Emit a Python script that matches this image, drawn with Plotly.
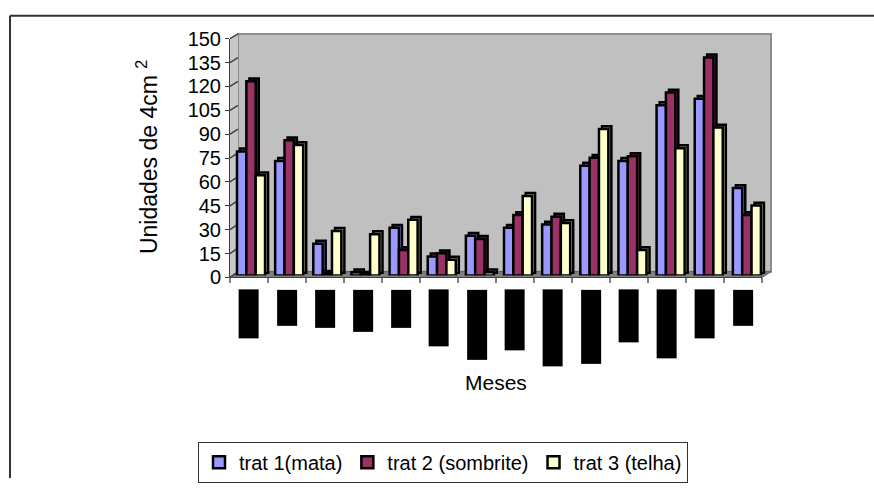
import plotly.graph_objects as go

# ---- data -------------------------------------------------------------
meses = ["jan/03", "fev/03", "mar/03", "abr/03", "mai/03", "jun/03", "jul/03",
         "ago/03", "set/03", "out/03", "nov/03", "dez/03", "jan/04", "fev/04"]
trat1_mata = [78, 72, 20, 2, 30, 12, 25, 30, 32, 69, 72, 107, 111, 55]
trat2_sombrite = [122, 85, 1, 0.5, 16, 14, 23, 38, 37, 74, 75, 115, 137, 38]
trat3_telha = [63, 82, 28, 26, 35, 10, 2, 50, 33, 92, 16, 80, 93, 44]
y_ticks = list(range(0, 151, 15))

series = [
    ("trat 1(mata)", trat1_mata),
    ("trat 2 (sombrite)", trat2_sombrite),
    ("trat 3 (telha)", trat3_telha),
]

# ---- styling ------------------------------------------------------------
W, H = 874, 489
FONT = "Arial, Liberation Sans, sans-serif"
front_colors = ["#9999FF", "#993366", "#FFFFCC"]
side_colors = ["#7373C0", "#6B2447", "#A3A37A"]
bar_offsets = [-0.395, -0.15, 0.095]
bar_width = 0.245
depth_dx, depth_dy = 0.08, 1.8
# length of the (blacked-out) rotated month label boxes
label_box_len = [49, 36, 38, 42, 38, 57, 70, 61, 77, 74, 53, 69, 49, 36]


def px_x(p):
    return p / W


def px_y(p):
    return 1 - p / H


# front axis frame and back wall frame, in pixels
FX0, FX1, FY0, FY150 = 230, 762, 279, 29
BX0, BX1, BY0, BY150 = 238, 771, 273, 24

fig = go.Figure()

idx = list(range(len(meses)))
for k, (name, vals) in enumerate(series):
    # side/top faces sit slightly behind and above the front face
    fig.add_trace(go.Bar(
        x=idx, y=vals, base=depth_dy, offset=bar_offsets[k] + depth_dx,
        width=bar_width, marker=dict(color=side_colors[k],
                                     line=dict(color="black", width=2.5)),
        showlegend=False, hoverinfo="skip", xaxis="x3", yaxis="y3"))
    fig.add_trace(go.Bar(
        x=idx, y=vals, offset=bar_offsets[k], width=bar_width, name=name,
        marker=dict(color=front_colors[k], line=dict(color="black", width=2.5)),
        xaxis="x3", yaxis="y3"))

shapes = []
# back wall
shapes.append(dict(type="rect", xref="paper", yref="paper", layer="below",
                   x0=px_x(BX0), x1=px_x(BX1), y0=px_y(BY0), y1=px_y(BY150),
                   fillcolor="#C0C0C0", line=dict(color="#8C8C8C", width=2)))
# left side wall
shapes.append(dict(type="path", xref="paper", yref="paper", layer="below",
                   path=(f"M{px_x(FX0)},{px_y(FY0)} L{px_x(FX0)},{px_y(FY150)} "
                         f"L{px_x(BX0)},{px_y(BY150)} L{px_x(BX0)},{px_y(BY0)} Z"),
                   fillcolor="#C8C8C8", line=dict(width=0)))
# floor
shapes.append(dict(type="path", xref="paper", yref="paper", layer="below",
                   path=(f"M{px_x(FX0)},{px_y(FY0)} L{px_x(BX0)},{px_y(BY0)} "
                         f"L{px_x(BX1)},{px_y(BY0)} L{px_x(FX1)},{px_y(FY0)} Z"),
                   fillcolor="#808080", line=dict(color="#606060", width=1)))
# diagonal tick connectors on the side wall
for v in y_ticks:
    fy = FY0 - v * (FY0 - FY150) / 150
    by = BY0 - v * (BY0 - BY150) / 150
    shapes.append(dict(type="line", xref="paper", yref="paper", layer="below",
                       x0=px_x(FX0), y0=px_y(fy), x1=px_x(BX0), y1=px_y(by),
                       line=dict(color="#404040", width=1.5)))
# chart area border (left and top edges lie inside the view)
shapes.append(dict(type="line", xref="paper", yref="paper", layer="above",
                   x0=px_x(10), y0=px_y(5), x1=px_x(10), y1=0,
                   line=dict(color="#333333", width=2)))
shapes.append(dict(type="line", xref="paper", yref="paper", layer="above",
                   x0=px_x(10), y0=px_y(5), x1=1, y1=px_y(5),
                   line=dict(color="#333333", width=2)))

annotations = [
    dict(text="Unidades de 4cm <sup>2</sup>", textangle=-90, showarrow=False,
         xref="paper", yref="paper", x=px_x(147), y=px_y(153),
         xanchor="center", yanchor="middle",
         font=dict(family=FONT, size=23, color="black")),
    dict(text="Meses", showarrow=False, xref="paper", yref="paper",
         x=px_x(496), y=px_y(389), xanchor="center", yanchor="middle",
         font=dict(family=FONT, size=21, color="black")),
]
for i, m in enumerate(meses):
    annotations.append(dict(
        text=m, textangle=-90, showarrow=False, xref="x", yref="paper",
        x=i, y=px_y(292), xanchor="center", yanchor="top",
        width=label_box_len[i], height=20, bgcolor="black",
        borderpad=0, borderwidth=0,
        font=dict(family=FONT, size=10, color="black")))

fig.update_layout(
    width=W, height=H, autosize=False,
    margin=dict(l=0, r=0, t=0, b=0),
    paper_bgcolor="white", plot_bgcolor="rgba(0,0,0,0)",
    barmode="overlay",
    font=dict(family=FONT, color="black"),
    xaxis=dict(domain=[px_x(FX0), px_x(FX1)], range=[-0.5, 13.5], anchor="y",
               tickvals=[i - 0.5 for i in range(len(meses) + 1)],
               showticklabels=False, ticks="outside", ticklen=5,
               tickcolor="#808080", tickwidth=1.5, showline=True,
               linecolor="#404040", linewidth=1, showgrid=False,
               zeroline=False, fixedrange=True),
    yaxis=dict(domain=[px_y(FY0), px_y(FY150)], range=[0, 150], anchor="x",
               tickvals=y_ticks, ticks="outside", ticklen=4,
               tickcolor="#404040", showline=True, linecolor="#404040",
               linewidth=1, showgrid=False, zeroline=False,
               tickfont=dict(family=FONT, size=20, color="black"),
               fixedrange=True),
    xaxis2=dict(domain=[px_x(BX0), px_x(BX1)], range=[-0.5, 13.5],
                anchor="y2", visible=False),
    yaxis2=dict(domain=[px_y(BY0), px_y(BY150)], range=[0, 150], anchor="x2",
                tickvals=y_ticks, showgrid=True, gridcolor="#404040",
                gridwidth=1.5, showticklabels=False, ticks="",
                showline=False, zeroline=False),
    xaxis3=dict(domain=[px_x(233), px_x(767)], range=[-0.5, 13.5],
                anchor="y3", visible=False),
    yaxis3=dict(domain=[px_y(277), px_y(27)], range=[0, 150], anchor="x3",
                visible=False),
    legend=dict(orientation="h", x=px_x(443), xanchor="center",
                y=px_y(451), yanchor="top", bordercolor="#333333",
                borderwidth=1, bgcolor="white",
                font=dict(family=FONT, size=20, color="black")),
    shapes=shapes,
    annotations=annotations,
)

fig.write_html("out.html")
